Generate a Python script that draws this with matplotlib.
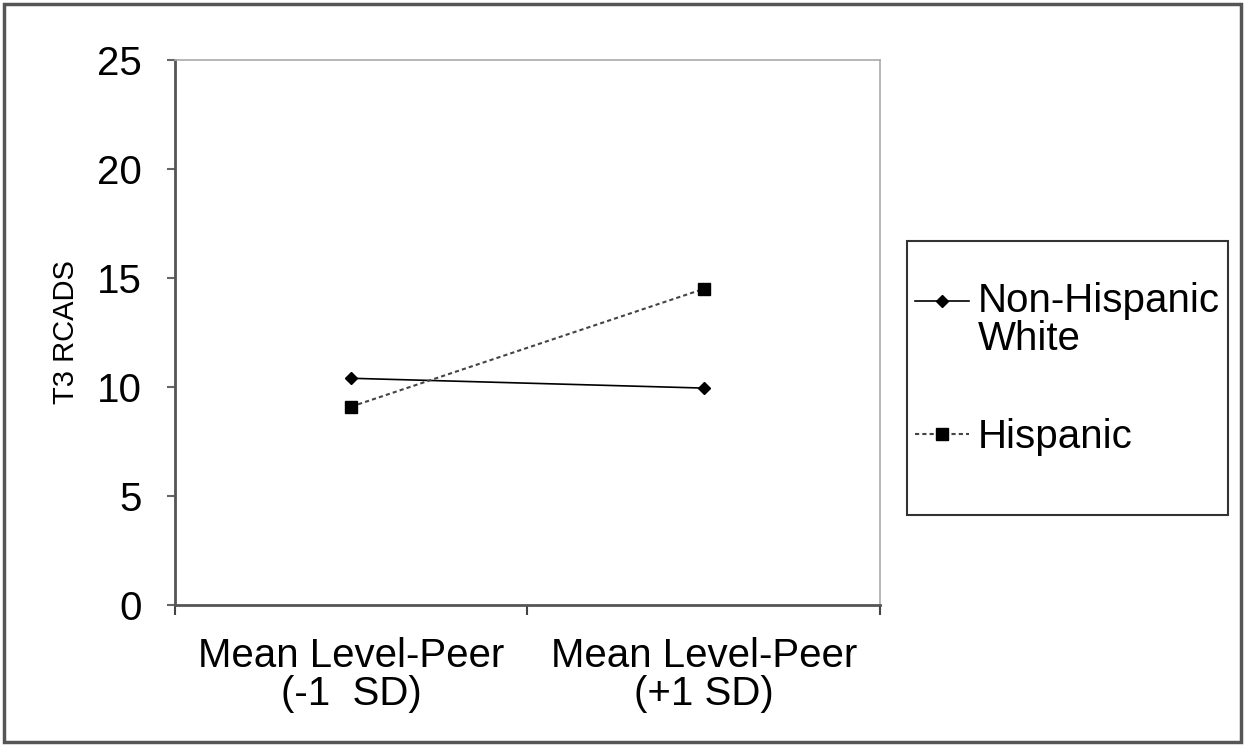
import numpy as np
import matplotlib
matplotlib.use("Agg")
import matplotlib.pyplot as plt
from matplotlib.patches import Rectangle

# data
categories = ["Mean Level-Peer\n(-1  SD)", "Mean Level-Peer\n(+1 SD)"]
non_hispanic_white = [10.4, 9.95]
hispanic = [9.1, 14.5]
yticks = [0, 5, 10, 15, 20, 25]

plt.rcParams['font.family'] = ['Liberation Sans', 'DejaVu Sans']

fig = plt.figure(figsize=(12.47, 7.46), dpi=100)
ax = fig.add_axes([0.1403, 0.189, 0.5654, 0.7306])

x = np.arange(len(categories))
l1, = ax.plot(x, non_hispanic_white, color='black', lw=1.2, marker='D',
              markersize=6, label="Non-Hispanic\nWhite")
l2, = ax.plot(x, hispanic, color='#444444', lw=1.5, ls=(0, (2, 1.5)),
              marker='s', markersize=8, markerfacecolor='black',
              markeredgecolor='black', label="Hispanic")

ax.set_xlim(-0.5, 1.5)
ax.set_ylim(0, 25)
ax.set_yticks(yticks)
ax.set_yticklabels([str(v) for v in yticks], fontsize=29)
ax.set_xticks([-0.5, 0.5, 1.5])
ax.set_xticklabels([])
ax.set_xticks(x, minor=True)
ax.set_xticklabels(categories, minor=True, fontsize=29, linespacing=1.0)
ax.tick_params(axis='x', which='minor', length=0, pad=23)
ax.tick_params(axis='x', which='major', length=7, width=1.5, color='#444444')
ax.tick_params(axis='y', length=6, width=1.5, color='#666666', pad=18)

for s in ['left', 'bottom']:
    ax.spines[s].set_color('#555555')
    ax.spines[s].set_linewidth(2)
for s in ['top', 'right']:
    ax.spines[s].set_color('#aaaaaa')
    ax.spines[s].set_linewidth(1.2)

ax.set_ylabel("T3 RCADS", fontsize=21, labelpad=12)

# legend without its own frame; frame drawn as a box like the reference
leg = fig.legend(handles=[l1, l2], loc='upper left',
                 bbox_to_anchor=(915 / 1247, 1 - 282 / 746), fontsize=29,
                 frameon=False, handlelength=1.35, handletextpad=0.2,
                 labelspacing=1.5, borderpad=0, borderaxespad=0)
for t in leg.get_texts():
    t.set_linespacing(1.0)
# move the first handle up to the first line of its two-line label
h0 = leg.legend_handles[0]
h0.set_ydata(np.asarray(h0.get_ydata()) + 0.5 * 29)

fig.patches.append(Rectangle((907 / 1247, 1 - 515 / 746), 321 / 1247, 274 / 746,
                             transform=fig.transFigure, fill=False,
                             edgecolor='#333333', lw=1.5))

fig.patches.append(Rectangle((0.003, 0.005), 0.992, 0.99, transform=fig.transFigure,
                             fill=False, edgecolor='#555555', lw=2.5))

fig.savefig("out.png", dpi=100)
